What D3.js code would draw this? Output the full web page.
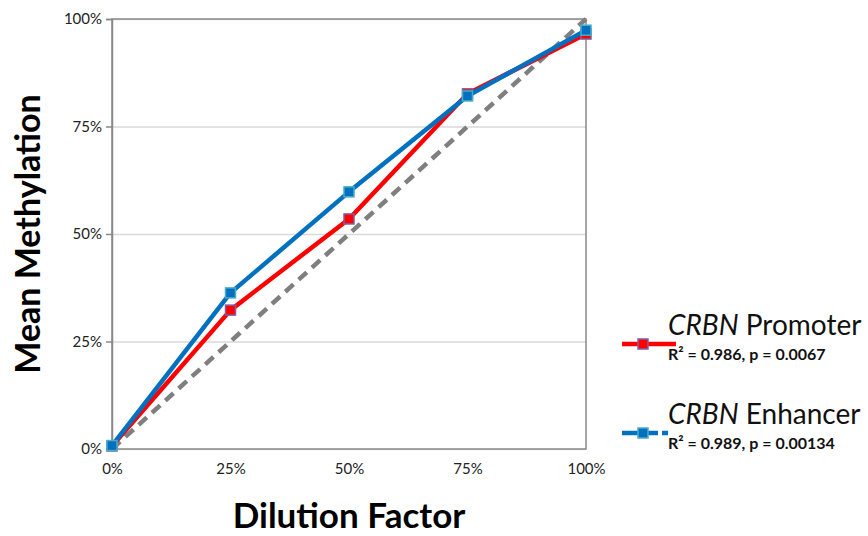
<!DOCTYPE html>
<html>
<head>
<meta charset="utf-8">
<script src="https://cdn.jsdelivr.net/npm/d3@7"></script>
<style>
  body { margin: 0; background: #fff; }
  text { font-family: Lato, "Open Sans", sans-serif; }
</style>
</head>
<body>
<svg id="chart" width="868" height="536"></svg>
<script>
// dilution factor (x) and mean methylation (y), fractions
var dilution = [0, 0.25, 0.5, 0.75, 1];
var promoter = [0.007, 0.323, 0.535, 0.826, 0.965];
var enhancer = [0.008, 0.363, 0.598, 0.821, 0.974];
var expected = [0, 1];
var tickVals = [0, 0.25, 0.5, 0.75, 1];

var legendItems = [
    { gene: "CRBN", name: " Promoter", stat: "R² = 0.986, p = 0.0067", line: "#ff0000", fill: "#ff0000", edge: "#7f5fa0" },
    { gene: "CRBN", name: " Enhancer", stat: "R² = 0.989, p = 0.00134", line: "#0070c0", fill: "#0070c0", edge: "#4bacc6" }
];

var svg = d3.select("#chart");
var plot = { left: 112, right: 586, top: 19, bottom: 449 };

var x = d3.scaleLinear().domain([0, 1]).range([plot.left, plot.right]);
var y = d3.scaleLinear().domain([0, 1]).range([plot.bottom, plot.top]);
var pct = d3.format(".0%");

// gridlines
svg.append("g")
    .attr("transform", "translate(" + plot.left + ",0)")
    .call(d3.axisLeft(y).tickValues(tickVals).tickSize(-(plot.right - plot.left)).tickFormat(""))
    .call(g => g.select(".domain").remove())
    .selectAll("line").attr("stroke", "#d9d9d9").attr("stroke-width", 1.3);

// frame
svg.append("rect")
    .attr("x", plot.left).attr("y", plot.top)
    .attr("width", plot.right - plot.left).attr("height", plot.bottom - plot.top)
    .attr("fill", "none").attr("stroke", "#898989").attr("stroke-width", 1.5);

// y axis
var yAxis = svg.append("g")
    .attr("transform", "translate(" + plot.left + ",0)")
    .call(d3.axisLeft(y).tickValues(tickVals).tickFormat(pct).tickSize(6).tickPadding(4));
yAxis.select(".domain").attr("stroke", "#898989").attr("stroke-width", 1.5);
yAxis.selectAll(".tick line").attr("stroke", "#898989").attr("stroke-width", 1.5);
yAxis.selectAll("text").attr("font-size", 15).attr("fill", "#222")
    .style("font-family", "Lato, sans-serif");

// x axis labels
var xAxis = svg.append("g")
    .attr("transform", "translate(0," + plot.bottom + ")")
    .call(d3.axisBottom(x).tickValues(tickVals).tickFormat(pct).tickSize(0).tickPadding(14));
xAxis.select(".domain").remove();
xAxis.selectAll("text").attr("font-size", 15).attr("fill", "#222")
    .style("font-family", "Lato, sans-serif");

// expected line
svg.append("path")
    .datum(expected)
    .attr("d", d3.line().x(d => x(d)).y(d => y(d)))
    .attr("fill", "none").attr("stroke", "#7f7f7f")
    .attr("stroke-width", 4.5).attr("stroke-dasharray", "11,7");

function series(values, item) {
    var pts = dilution.map((d, i) => [d, values[i]]);
    svg.append("path")
        .datum(pts)
        .attr("d", d3.line().x(d => x(d[0])).y(d => y(d[1])))
        .attr("fill", "none").attr("stroke", item.line).attr("stroke-width", 4.5)
        .attr("stroke-linejoin", "round");
    svg.append("g").selectAll("rect")
        .data(pts).join("rect")
        .attr("x", d => x(d[0]) - 5).attr("y", d => y(d[1]) - 5)
        .attr("width", 10).attr("height", 10)
        .attr("fill", item.fill).attr("stroke", item.edge).attr("stroke-width", 1.5);
}
series(promoter, legendItems[0]);
series(enhancer, legendItems[1]);

// axis titles
svg.append("text")
    .attr("transform", "translate(40,234) rotate(-90)")
    .attr("text-anchor", "middle")
    .attr("font-size", 34).attr("font-weight", "bold").attr("fill", "#000")
    .text("Mean Methylation");
svg.append("text")
    .attr("x", 349).attr("y", 528)
    .attr("text-anchor", "middle")
    .attr("font-size", 35).attr("font-weight", "bold").attr("fill", "#000")
    .text("Dilution Factor");

// legend
var leg = svg.append("g").selectAll("g")
    .data(legendItems).join("g")
    .attr("transform", (d, i) => "translate(0," + (i * 89) + ")");
leg.append("line")
    .attr("x1", 622).attr("x2", 676).attr("y1", 344).attr("y2", 344)
    .attr("stroke", d => d.line).attr("stroke-width", 4.5)
    .attr("stroke-dasharray", (d, i) => i ? "36,4,6" : null);
leg.append("rect")
    .attr("x", 638).attr("y", 339).attr("width", 10).attr("height", 10)
    .attr("fill", d => d.fill).attr("stroke", d => d.edge).attr("stroke-width", 1.5);
var title = leg.append("text")
    .attr("x", 668).attr("y", 335)
    .attr("font-size", 28).attr("fill", "#111");
title.append("tspan").attr("font-style", "italic").text(d => d.gene);
title.append("tspan").text(d => d.name);
leg.append("text")
    .attr("x", 668).attr("y", 360)
    .attr("font-size", 16).attr("font-weight", "bold").attr("fill", "#111")
    .text(d => d.stat);
</script>
</body>
</html>
